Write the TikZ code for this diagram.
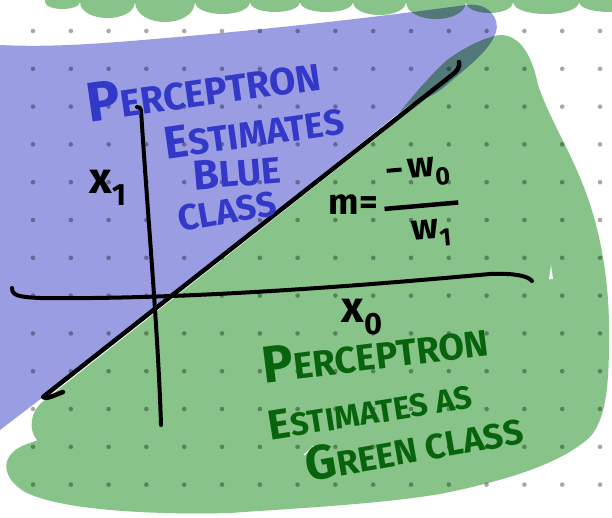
\documentclass[tikz,border=0pt]{standalone}
\usepackage{fontspec}
\setsansfont{Fira Sans}
\usetikzlibrary{positioning}

\definecolor{blueregion}{RGB}{155,157,227}
\definecolor{greenregion}{RGB}{136,196,137}
\definecolor{bluepen}{RGB}{50,56,200}
\definecolor{greenpen}{RGB}{8,100,12}
\definecolor{griddot}{RGB}{168,168,168}

\newcommand{\capword}[4]{{\fontsize{#1}{#1}\selectfont #2}{\fontsize{#3}{#3}\selectfont #4}}
\newcommand{\slopefrac}{\begin{tabular}{@{}c@{}}\rule[8pt]{15pt}{4pt}\,w\textsubscript{0}\\[-6pt]\rule{74pt}{4.5pt}\\[-4pt]\hspace{16pt}w\textsubscript{1}\end{tabular}}

\tikzset{
  pen/.style={line width=4.5pt, line cap=round, line join=round},
  bluetext/.style={text=bluepen, font=\sffamily\bfseries, inner sep=0pt},
  greentext/.style={text=greenpen, font=\sffamily\bfseries, inner sep=0pt},
  axistext/.style={font=\sffamily\bfseries\fontsize{44}{44}\selectfont, inner sep=0pt},
  slopetext/.style={font=\sffamily\bfseries\fontsize{36}{36}\selectfont, inner sep=0pt},
}

\begin{document}
\begin{tikzpicture}[x=1pt, y=-1pt]
  \useasboundingbox (0,0) rectangle (612,517);

  \foreach \i in {0,...,15}
    \foreach \j in {0,...,12}
      \fill[griddot] ({33+37.8*\i}, {31+37.8*\j}) circle (2.3);

  \begin{scope}[blend mode=multiply]
    \foreach \a/\b/\d in {45/80/9, 80/135/18, 135/195/22, 195/250/14, 250/300/12, 300/353/12, 353/406/15, 406/466/19, 466/513/13, 513/579/14, 579/640/12}
      \fill[greenregion] (\a,-1) -- (\a,2) .. controls ({\a+0.02*(\b-\a)}, {(4*\d-2)/3}) and ({\b-0.02*(\b-\a)}, {(4*\d-2)/3}) .. (\b,2) -- (\b,-1) -- cycle;

    \fill[greenregion] (500,35) .. controls (520,35) and (532,55) .. (538,85)
      .. controls (550,120) and (570,150) .. (585,190)
      .. controls (600,230) and (610,280) .. (609,340)
      .. controls (609,390) and (605,420) .. (590,437)
      .. controls (560,465) and (500,482) .. (440,494)
      .. controls (380,504) and (300,508) .. (230,513)
      .. controls (150,515) and (60,510) .. (25,492)
      .. controls (2,478) and (0,458) .. (20,447)
      .. controls (30,442) and (38,441) .. (37,440)
      .. controls (28,430) and (30,410) .. (45,400)
      -- (385,131)
      .. controls (400,112) and (420,85) .. (447,60)
      .. controls (465,47) and (485,37) .. (500,35) -- cycle;

    \fill[blueregion] (0,45) .. controls (60,48) and (120,42) .. (200,35)
      .. controls (300,26) and (400,14) .. (466,5)
      .. controls (490,2) and (500,20) .. (496,32)
      .. controls (490,50) and (470,65) .. (450,82)
      .. controls (440,92) and (425,100) .. (410,104)
      -- (55,388) -- (0,430) -- cycle;
  \end{scope}

  \coordinate (lineLow) at (43,397);
  \coordinate (lineHigh) at (452,75);
  \draw[pen] (63,392) .. controls (55,395) and (45,400) .. (lineLow)
    -- (lineHigh) .. controls (457,71) and (460,68) .. (459,62);

  \coordinate (xAxisLeft) at (40,298);
  \coordinate (xAxisRight) at (490,274);
  \draw[pen, line width=4pt] (12,288) .. controls (12,296) and (20,297) .. (xAxisLeft)
    .. controls (200,300) and (400,282) .. (xAxisRight)
    .. controls (515,273) and (528,276) .. (532,281);

  \coordinate (yAxisTop) at (141,110);
  \coordinate (yAxisBottom) at (161,425);
  \draw[pen, line width=4pt] (137,107) .. controls (139,107) and (141,108) .. (yAxisTop)
    .. controls (148,220) and (158,330) .. (yAxisBottom);

  \fill[white] (549,279) -- (551,265) -- (553,279) -- cycle;
  \draw[white, line width=1pt] (304,455) -- (314,446);

  \node[bluetext, rotate=8] (bluePerceptron) at (203,87) {\capword{56}{P}{38}{ERCEPTRON}};
  \node[bluetext, rotate=8] (blueEstimates) at (254,131) {\capword{46}{E}{36}{STIMATES}};
  \node[bluetext, rotate=5] (blueBlue) at (237,172) {\capword{42}{B}{37}{LUE}};
  \node[bluetext, rotate=10] (blueClass) at (227,211) {\capword{36}{C}{35}{LASS}};

  \node[greentext, rotate=7] (greenPerceptron) at (375,352) {\capword{52}{P}{37}{ERCEPTRON}};
  \node[greentext, rotate=9] (greenEstimates) at (370,410) {\capword{42}{E}{32}{STIMATES AS}};
  \node[greentext, rotate=10] (greenClass) at (414,446) {\capword{48}{G}{35}{REEN CLASS}};

  \node[axistext] (xOne) at (108,188) {x\textsubscript{1}};
  \node[axistext] (xZero) at (362,317) {x\textsubscript{0}};
  \node[slopetext, anchor=east] (slopeM) at (378,205) {m=};
  \node[slopetext, rotate=5, right=6pt of slopeM.east] (slopeFrac) {\slopefrac};
\end{tikzpicture}
\end{document}
